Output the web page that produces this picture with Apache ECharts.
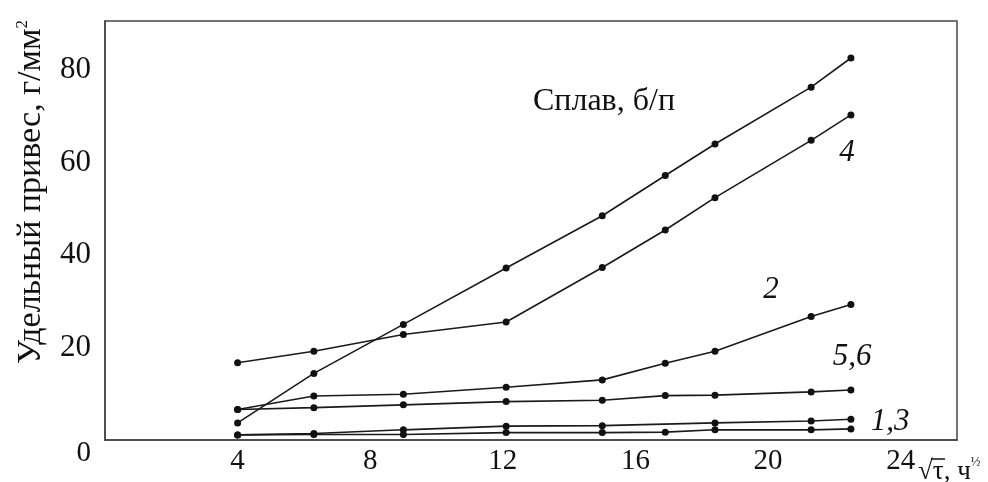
<!DOCTYPE html>
<html>
<head>
<meta charset="utf-8">
<script src="https://cdn.jsdelivr.net/npm/echarts@6/dist/echarts.min.js"></script>
<style>
  html, body { margin: 0; padding: 0; background: #fff; }
  #chart { width: 988px; height: 482px; }
</style>
</head>
<body>
<div id="chart"></div>
<script>
// tick labels
var xTicks = [4, 8, 12, 16, 20, 24];
var yTicks = [0, 20, 40, 60, 80];

// x positions (sqrt of time, h^1/2)
var xAll = [4, 6.3, 9, 12.1, 15, 16.9, 18.4, 21.3, 22.5];
var xAlloy3 = [4, 6.3, 9, 12.1, 15, 18.4, 21.3, 22.5];

// specific weight gain, g/mm2
var steepY = [3.7, 14.4, 25.0, 37.2, 48.5, 57.2, 64.0, 76.3, 82.6];
var alloy4Y = [16.7, 19.2, 22.8, 25.5, 37.3, 45.4, 52.4, 64.8, 70.3];
var alloy2Y = [6.6, 9.5, 9.9, 11.4, 13.0, 16.6, 19.2, 26.7, 29.3];
var alloy56Y = [6.6, 7.0, 7.6, 8.3, 8.6, 9.6, 9.7, 10.4, 10.8];
var alloy3Y = [1.1, 1.4, 2.2, 3.0, 3.1, 3.7, 4.1, 4.5];
var alloy1Y = [1.1, 1.2, 1.2, 1.6, 1.6, 1.7, 2.2, 2.2, 2.4];

function pairs(xs, ys) {
  return xs.map(function (x, i) { return [x, ys[i]]; });
}

var serif = 'Liberation Serif';
var ink = '#1a1a1a';

function line(name, xs, ys) {
  return {
    name: name, type: 'line', data: pairs(xs, ys),
    symbol: 'circle', symbolSize: 7,
    lineStyle: { color: ink, width: 1.6 },
    itemStyle: { color: '#111' },
    animation: false
  };
}

function note(txt, x, y) {
  return { type: 'text', x: x, y: y,
    style: { text: txt, fontFamily: serif, fontStyle: 'italic', fontSize: 31, fill: '#111', align: 'center', verticalAlign: 'middle' } };
}

var chart = echarts.init(document.getElementById('chart'));
chart.setOption({
  backgroundColor: '#fff',
  grid: { left: 105, right: 31, top: 21, bottom: 42, show: true, borderColor: '#444', borderWidth: 1.5 },
  xAxis: {
    type: 'value', min: 0, max: 25.7,
    axisLine: { show: true, lineStyle: { color: '#444', width: 1.5 } },
    axisTick: { show: false }, splitLine: { show: false },
    axisLabel: { customValues: xTicks, margin: 7, fontFamily: serif, fontSize: 29, color: '#111' }
  },
  yAxis: {
    type: 'value', min: 0, max: 90.6,
    axisLine: { show: true, lineStyle: { color: '#444', width: 1.5 } },
    axisTick: { show: false }, splitLine: { show: false },
    axisLabel: {
      customValues: yTicks, margin: 14, fontFamily: serif, fontSize: 31, color: '#111',
      formatter: function (v) { return v === 0 ? '{z|0}' : String(v); },
      rich: { z: { fontFamily: serif, fontSize: 29, color: '#111', padding: [26, 0, 0, 0] } }
    }
  },
  graphic: [
    { type: 'text', x: 31, y: 192, rotation: Math.PI / 2,
      style: { text: 'Удельный привес, г/мм{s|2}', fontFamily: serif, fontSize: 34, fill: '#111',
        align: 'center', verticalAlign: 'middle',
        rich: { s: { fontFamily: serif, fontSize: 17, fill: '#111', verticalAlign: 'top', padding: [0, 0, 16, 0] } } } },
    { type: 'text', x: 604, y: 102,
      style: { text: 'Сплав, б/п', fontFamily: serif, fontSize: 32, fill: '#111', align: 'center', verticalAlign: 'middle' } },
    note('4', 847, 153),
    note('2', 771, 290),
    note('5,6', 852, 357),
    note('1,3', 890, 422),
    { type: 'text', x: 918, y: 472,
      style: { text: '√τ, ч{s|½}', fontFamily: serif, fontSize: 27, fill: '#111', align: 'left', verticalAlign: 'middle',
        rich: { s: { fontFamily: serif, fontSize: 13, fill: '#111', padding: [0, 0, 18, 0] } } } },
    { type: 'line', shape: { x1: 931, y1: 459, x2: 945, y2: 459 }, style: { stroke: '#111', lineWidth: 1.5 } }
  ],
  series: [
    line('steep', xAll, steepY),
    line('4', xAll, alloy4Y),
    line('2', xAll, alloy2Y),
    line('5,6', xAll, alloy56Y),
    line('3', xAlloy3, alloy3Y),
    line('1', xAll, alloy1Y)
  ]
});
</script>
</body>
</html>
